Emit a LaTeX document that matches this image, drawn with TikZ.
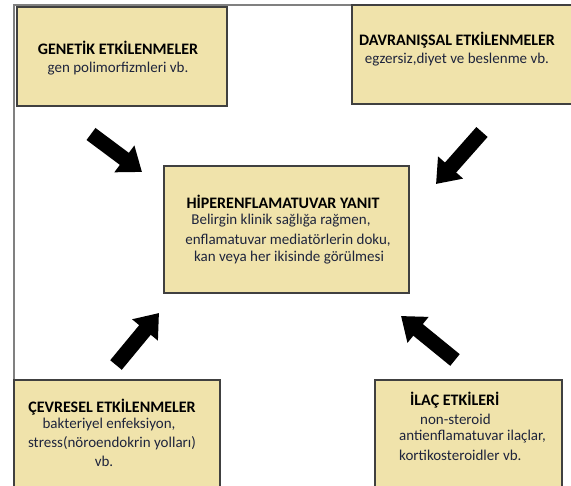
\documentclass[tikz,border=0pt]{standalone}
\usepackage{fontspec}
\setmainfont{Carlito}
\usetikzlibrary{arrows.meta}
\definecolor{boxfill}{RGB}{240,227,171}
\definecolor{boxline}{RGB}{64,64,64}
\definecolor{frameline}{RGB}{128,128,128}
\definecolor{bodytext}{RGB}{30,36,60}
\tikzset{
  box/.style={draw=boxline, line width=1.6pt, fill=boxfill, inner sep=0pt},
  ttl/.style={font=\fontsize{16}{19}\selectfont\bfseries, text=black, inner sep=0pt},
  txt/.style={font=\fontsize{15}{18.5}\selectfont, text=bodytext, inner sep=0pt, align=center},
  blockarrow/.style={line width=15pt, draw=black, -{Triangle[length=22pt,width=32pt]}}
}
\begin{document}
\begin{tikzpicture}[x=1pt,y=-1pt]
\useasboundingbox (0,0) rectangle (571,486);
\clip (0,0) rectangle (571,486);
% frame
\draw[frameline, line width=1.2pt] (14,486) -- (14,5) -- (571,5);
% boxes
\node[box, minimum width=210pt, minimum height=99pt] (gen) at (122,56.5) {};
\node[box, minimum width=223pt, minimum height=99pt] (dav) at (463.5,54.5) {};
\node[box, minimum width=245pt, minimum height=127pt] (hip) at (286.5,229.5) {};
\node[box, minimum width=206pt, minimum height=115pt] (cev) at (117,437.5) {};
\node[box, minimum width=187pt, minimum height=115pt] (ilac) at (468.5,437.5) {};
% texts
\node[ttl] (genT) at (118,48) {GENETİK ETKİLENMELER};
\node[txt] (genB) at (118,69) {gen polimorfizmleri vb.};
\node[ttl] (davT) at (457,40) {DAVRANIŞSAL ETKİLENMELER};
\node[txt] (davB) at (457,60) {egzersiz,diyet ve beslenme vb.};
\node[ttl] (hipT) at (283,202) {HİPERENFLAMATUVAR YANIT};
\node[txt] (hipB1) at (281,221) {Belirgin klinik sağlığa rağmen,};
\node[txt] (hipB2) at (288,240) {enflamatuvar mediatörlerin doku,};
\node[txt] (hipB3) at (289,258) {kan veya her ikisinde görülmesi};
\node[ttl] (cevT) at (112,407) {ÇEVRESEL ETKİLENMELER};
\node[txt] (cevB1) at (109,425) {bakteriyel enfeksiyon,};
\node[txt] (cevB2) at (112,443) {stress(nöroendokrin yolları)};
\node[txt] (cevB3) at (104,461) {vb.};
\node[ttl, anchor=west] (ilacT) at (410,400) {İLAÇ ETKİLERİ};
\node[txt, anchor=west] (ilacB1) at (420,419) {non-steroid};
\node[txt, anchor=west] (ilacB2) at (399,437) {antienflamatuvar ilaçlar,};
\node[txt, anchor=west] (ilacB3) at (399,455) {kortikosteroidler vb.};
% arrows
\coordinate (a1s) at (91,134);
\coordinate (a1e) at (142,172);
\coordinate (a2s) at (482,132);
\coordinate (a2e) at (436,184);
\coordinate (a3s) at (116,365);
\coordinate (a3e) at (159,313);
\coordinate (a4s) at (455,360);
\coordinate (a4e) at (401,316);
\draw[blockarrow] (a1s) -- (a1e);
\draw[blockarrow] (a2s) -- (a2e);
\draw[blockarrow] (a3s) -- (a3e);
\draw[blockarrow] (a4s) -- (a4e);
\end{tikzpicture}
\end{document}
